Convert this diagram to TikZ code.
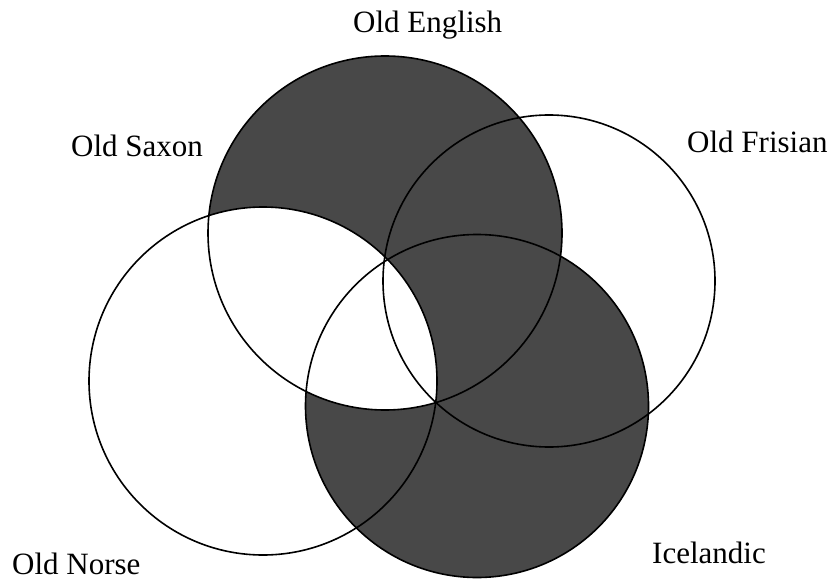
\documentclass[tikz,border=0pt]{standalone}
\usepackage{fontspec}
\setmainfont{Liberation Serif}
\definecolor{darkfill}{RGB}{72,72,72}
\begin{document}
\begin{tikzpicture}[x=1pt,y=-1pt,
  ring/.style={draw=black,line width=1.6pt},
  lbl/.style={inner sep=0pt,anchor=base west,font=\fontsize{31}{37}\selectfont}]
\useasboundingbox (0,0) rectangle (832,580);
\fill[white] (0,0) rectangle (832,580);
\coordinate (oe) at (385,233);
\coordinate (on) at (263,381);
\coordinate (ic) at (477,406);
\coordinate (of) at (549,281);
% shading
\fill[darkfill] (oe) circle[radius=177pt];
\fill[darkfill] (ic) circle[radius=171.5pt];
\begin{scope}
  \clip (oe) circle[radius=177pt];
  \fill[white] (on) circle[radius=174pt];
\end{scope}
% outlines
\draw[ring] (oe) circle[radius=177pt];
\draw[ring] (on) circle[radius=174pt];
\draw[ring] (ic) circle[radius=171.5pt];
\draw[ring] (of) circle[radius=166pt];
% labels
\node[lbl] (loe) at (353,33) {Old English};
\node[lbl] (los) at (71,157) {Old Saxon};
\node[lbl] (lof) at (687,153) {Old Frisian};
\node[lbl] (lon) at (12,574) {Old Norse};
\node[lbl] (lic) at (652,563) {Icelandic};
\end{tikzpicture}
\end{document}
